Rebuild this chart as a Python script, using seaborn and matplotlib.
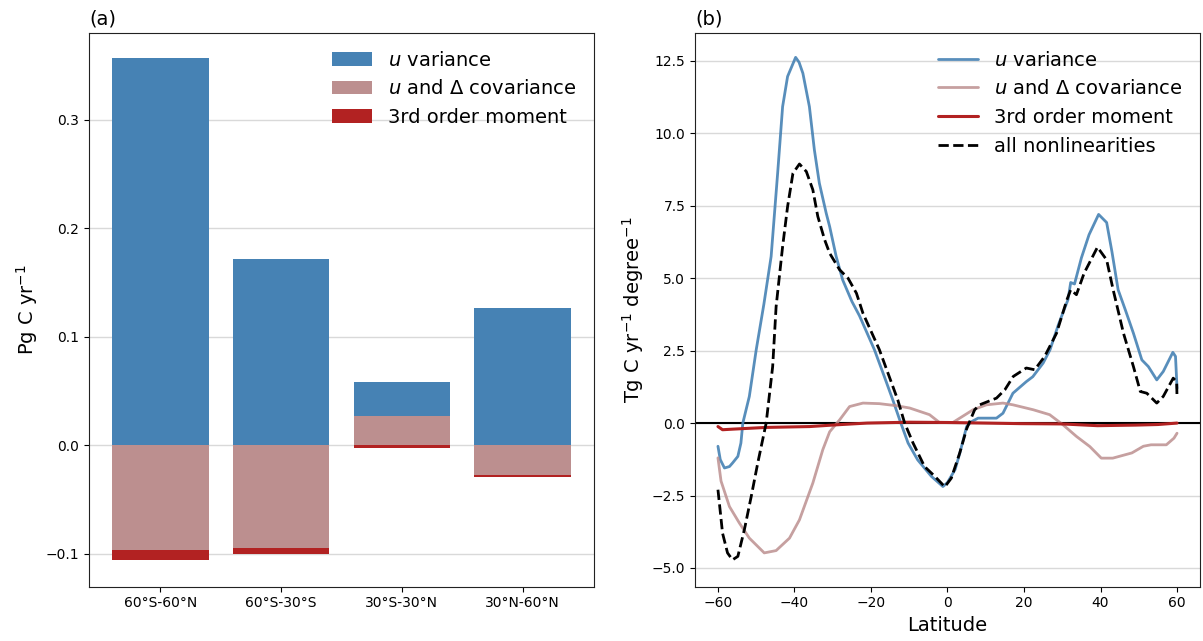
import numpy as np
import pandas as pd
import matplotlib
matplotlib.use('Agg')
import matplotlib.pyplot as plt
import seaborn as sns

# ---- panel (a): regional totals (Pg C / yr)
regions = ['60°S-60°N', '60°S-30°S', '30°S-30°N', '30°N-60°N']
u_var = [0.357, 0.172, 0.031, 0.127]
u_delta_cov = [-0.096, -0.0945, 0.027, -0.027]
third_moment = [-0.010, -0.0055, -0.002, -0.002]

# ---- panel (b): zonal profiles (Tg C / yr / degree)
lat_uvar = [-60, -59.4, -58.3, -57, -56.2, -54.8, -54, -53.5, -51.8, -50, -48, -46.1, -44.4,
            -43.1, -41.8, -39.7, -38.8, -37.8, -36.1, -34.8, -33.5, -31.7, -30.8, -29.1,
            -27.4, -25, -23, -21, -19.1, -16.5, -14.3, -12.2, -10.3, -7.8, -4.2, -1.2, 0,
            2, 3.2, 5, 6.3, 8, 12.8, 14.5, 17.1, 20.6, 22.3, 25, 26.8, 29, 31.5, 32.2, 33.2,
            35, 37, 39.5, 41.6, 43, 44.6, 46.5, 48.6, 50.8, 52.5, 54.7, 56.4, 58.9, 59.6, 60]
uvar_profile = [-0.8, -1.26, -1.55, -1.5, -1.38, -1.15, -0.69, 0, 0.92, 2.53, 4.1, 5.75, 8.62,
                10.92, 11.96, 12.62, 12.45, 12.07, 10.92, 9.43, 8.28, 7.24, 6.78, 5.75,
                4.94, 4.2, 3.7, 3.1, 2.53, 1.6, 0.8, 0, -0.69, -1.27, -1.84, -2.19, -2.05,
                -1.6, -1.05, -0.12, 0.05, 0.17, 0.17, 0.34, 1.03, 1.43, 1.6, 2.07, 2.53, 3.4,
                4.26, 4.85, 4.8, 5.7, 6.5, 7.2, 6.92, 5.9, 4.6, 3.9, 3.1, 2.18, 1.95, 1.49,
                1.78, 2.44, 2.3, 1.2]

lat_cov = [-60, -59.2, -57, -54.4, -51.8, -47.9, -44.8, -41.3, -38.7, -35.2, -32.6, -30.8,
           -28.2, -25.6, -22.1, -17.8, -13.4, -9.9, -4.7, -2.1, 1.4, 3.2, 6.7, 10.2, 14.5,
           17.1, 22.4, 26.7, 30.2, 33.7, 37.2, 40.2, 43.2, 48.2, 51.2, 53.2, 57.2, 59.2, 60]
cov_profile = [-1.2, -2.0, -2.88, -3.45, -3.97, -4.48, -4.4, -3.97, -3.34, -2.07, -0.92, -0.3,
               0.11, 0.57, 0.69, 0.67, 0.6, 0.52, 0.29, 0.02, 0.02, 0.17, 0.46, 0.63, 0.69,
               0.63, 0.46, 0.29, -0.06, -0.46, -0.81, -1.21, -1.21, -1.03, -0.8, -0.75,
               -0.75, -0.52, -0.35]

lat_third = [-60, -58.8, -56.2, -47.4, -36, -29, -21, -10, 0, 10, 19.2, 30, 39.2, 49.2, 55, 60]
third_profile = [-0.12, -0.23, -0.21, -0.15, -0.12, -0.06, 0, 0.03, 0.02, 0.0, -0.02, -0.03,
                 -0.09, -0.07, -0.05, 0]

lat_all = [-60, -58.8, -57.5, -56.2, -54.8, -53.1, -51.3, -49.6, -47.4, -45.7, -44.8, -43.1,
           -41.8, -40.4, -38.7, -36.9, -35.2, -33.9, -32.1, -30.8, -28.2, -26, -23.8, -22.1,
           -17.8, -13, -11.2, -9, -6, -3.3, -0.7, 1, 3.2, 5, 7.1, 8.4, 12.8, 15, 17.2, 20.6,
           22.8, 25.4, 28.5, 31.2, 32.2, 33.7, 35.7, 39.2, 41.6, 43.3, 46, 48.6, 50.4, 52.1,
           54.7, 56.4, 59, 59.9, 60]
all_profile = [-2.3, -3.8, -4.48, -4.72, -4.6, -3.68, -2.53, -1.38, 0, 1.95, 4.02, 6.09,
               7.47, 8.62, 8.94, 8.68, 8.05, 7.13, 6.32, 5.86, 5.29, 5.0, 4.48, 3.79,
               2.53, 0.8, 0, -0.69, -1.5, -1.84, -2.2, -1.9, -1.03, -0.2, 0.46, 0.63, 0.86,
               1.15, 1.61, 1.9, 1.84, 2.3, 3.1, 4.25, 4.6, 4.43, 5.17, 6.07, 5.63, 4.6, 3.1,
               1.95, 1.09, 1.03, 0.69, 0.92, 1.55, 1.43, 0.86]

c_u, c_cov, c_third = 'steelblue', 'rosybrown', 'firebrick'

sns.set_style('ticks', {'text.color': 'black', 'axes.labelcolor': 'black',
                        'xtick.color': 'black', 'ytick.color': 'black',
                        'axes.edgecolor': '#222222'})
plt.rcParams['font.family'] = ['DejaVu Sans']
plt.rcParams['xtick.labelsize'] = 10
plt.rcParams['ytick.labelsize'] = 10

fig, axes = plt.subplots(1, 2, figsize=(12.03, 6.41), dpi=100)
fig.subplots_adjust(left=0.074, right=0.9975, bottom=0.085, top=0.9485, wspace=0.2)

# (a) stacked bars: positive and negative parts stacked separately
u = np.array(u_var); cv = np.array(u_delta_cov); th = np.array(third_moment)
u_bottom = np.where(cv > 0, cv, 0)
th_bottom = np.where((cv < 0) & (th < 0), cv, 0)

ax = axes[0]
sns.barplot(x=regions, y=u, bottom=u_bottom, color=c_u, saturation=1, linewidth=0,
            label=r'$u$ variance', ax=ax)
sns.barplot(x=regions, y=cv, color=c_cov, saturation=1, linewidth=0,
            label=r'$u$ and $\Delta$ covariance', ax=ax)
sns.barplot(x=regions, y=th, bottom=th_bottom, color=c_third, saturation=1, linewidth=0,
            label='3rd order moment', ax=ax)
ax.set_xlim(-0.59, 3.59)
ax.set_ylim(-0.13, 0.38)
ax.set_yticks([-0.1, 0.0, 0.1, 0.2, 0.3])
ax.yaxis.grid(True, color='#d9d9d9', lw=1)
ax.set_axisbelow(True)
ax.set_ylabel(r'Pg C yr$^{-1}$', fontsize=14)
ax.set_title('(a)', loc='left', fontsize=14)
ax.legend(loc='upper right', frameon=False, fontsize=14, handlelength=2.1)

# (b) zonal profiles
ax = axes[1]
sns.lineplot(x=lat_uvar, y=uvar_profile, color=c_u, lw=2, alpha=0.9,
             label=r'$u$ variance', ax=ax)
sns.lineplot(x=lat_cov, y=cov_profile, color=c_cov, lw=2, alpha=0.85,
             label=r'$u$ and $\Delta$ covariance', ax=ax)
sns.lineplot(x=lat_third, y=third_profile, color=c_third, lw=2.2,
             label='3rd order moment', ax=ax)
sns.lineplot(x=lat_all, y=all_profile, color='black', lw=2, linestyle='--',
             label='all nonlinearities', ax=ax)
ax.axhline(0, color='black', lw=1.5, zorder=1)
ax.set_xlim(-66, 66)
ax.set_ylim(-5.64, 13.46)
ax.set_xticks([-60, -40, -20, 0, 20, 40, 60])
ax.yaxis.grid(True, color='#d9d9d9', lw=1)
ax.set_axisbelow(True)
ax.set_xlabel('Latitude', fontsize=14)
ax.set_ylabel(r'Tg C yr$^{-1}$ degree$^{-1}$', fontsize=14)
ax.set_title('(b)', loc='left', fontsize=14)
ax.legend(loc='upper right', frameon=False, fontsize=14, handlelength=2.1)

fig.savefig('out.png', dpi=100)
